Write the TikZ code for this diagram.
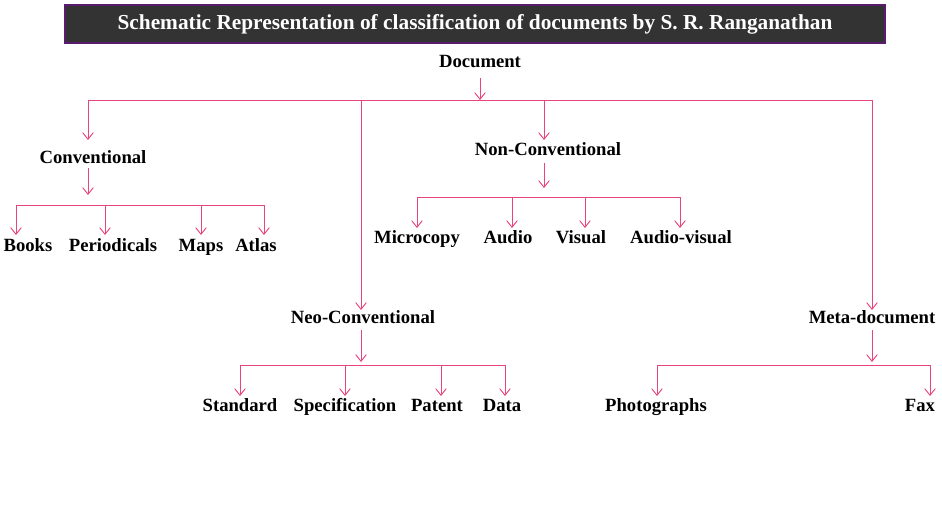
\documentclass[tikz,border=0pt]{standalone}
\usepackage{fontspec}
\setmainfont{Liberation Serif}
\usetikzlibrary{arrows.meta}
\definecolor{pk}{HTML}{E8447F}
\definecolor{tb}{HTML}{333333}
\definecolor{tbd}{HTML}{5A1A6E}
\begin{document}
\begin{tikzpicture}[x=0.75pt,y=-0.75pt,
  lab/.style={font=\bfseries\fontsize{14}{16}\selectfont, inner sep=1pt, text height=9.5pt, text depth=3pt},
  con/.style={draw=pk, line width=0.7pt},
  arr/.style={con, -{Straight Barb[length=5pt,width=8pt]}}]
\useasboundingbox (0,0) rectangle (942,525);
\node[fill=tb, draw=tbd, line width=1pt, minimum width=615pt, minimum height=28.5pt, text=white, font=\bfseries\fontsize{16}{19}\selectfont] (title) at (475,24) {Schematic Representation of classification of documents by S. R. Ranganathan};
\node[lab] (doc) at (480,63) {Document};
\node[lab] (conv) at (93,159) {Conventional};
\node[lab] (nonc) at (548,151) {Non-Conventional};
\node[lab] (neo) at (363,319) {Neo-Conventional};
\node[lab] (meta) at (872,319) {Meta-document};
\node[lab] (books) at (28,247) {Books};
\node[lab] (per) at (113,247) {Periodicals};
\node[lab] (maps) at (201,247) {Maps};
\node[lab] (atlas) at (256,247) {Atlas};
\node[lab] (micro) at (417,239) {Microcopy};
\node[lab] (audio) at (508,239) {Audio};
\node[lab] (vis) at (581,239) {Visual};
\node[lab] (av) at (681,239) {Audio-visual};
\node[lab] (std) at (240,407) {Standard};
\node[lab] (spec) at (345,407) {Specification};
\node[lab] (pat) at (437,407) {Patent};
\node[lab] (data) at (502,407) {Data};
\node[lab] (photo) at (656,407) {Photographs};
\node[lab] (fax) at (920,407) {Fax};
% Document
\draw[arr] (480,78) -- (480,100);
\draw[con] (88,100) -- (872,100);
\draw[arr] (88,100) -- (88,140);
\draw[arr] (361,100) -- (361,310);
\draw[arr] (544,100) -- (544,140);
\draw[arr] (872,100) -- (872,310);
% Conventional
\draw[arr] (88,168) -- (88,195);
\draw[con] (16,205) -- (264,205);
\foreach \x in {16,105,201,264} \draw[arr] (\x,205) -- (\x,235);
% Non-conventional
\draw[arr] (544,163) -- (544,188);
\draw[con] (417,197) -- (680,197);
\foreach \x in {417,512,585,680} \draw[arr] (\x,197) -- (\x,228);
% Neo
\draw[arr] (361,330) -- (361,362);
\draw[con] (240,365) -- (505,365);
\foreach \x in {240,345,441,505} \draw[arr] (\x,365) -- (\x,396);
% Meta
\draw[arr] (872,330) -- (872,362);
\draw[con] (657,365) -- (930,365);
\foreach \x in {657,930} \draw[arr] (\x,365) -- (\x,396);
\end{tikzpicture}
\end{document}
